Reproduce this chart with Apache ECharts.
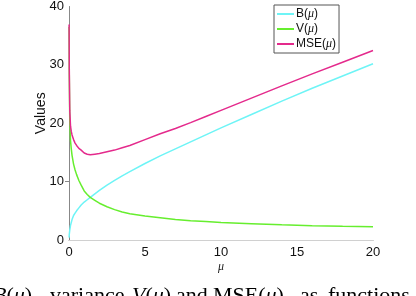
<!DOCTYPE html>
<html>
<head>
<meta charset="utf-8">
<script src="https://cdn.jsdelivr.net/npm/echarts@6/dist/echarts.min.js"></script>
<style>html,body{margin:0;padding:0;background:#fff}#c{width:416px;height:296px}</style>
</head>
<body>
<div id="c"></div>
<script>
const mu       = [0.005,0.02,0.05,0.1,0.15,0.2,0.3,0.4,0.5,0.65,0.8,1,1.2,1.4,1.7,2,2.5,3,3.5,4,5,6,7,8,9,10,12,14,16,18,20];
const bias     = [0.4,1.0,1.7,2.5,3.0,3.5,4.2,4.6,5.0,5.5,6.0,6.5,6.9,7.3,7.9,8.5,9.4,10.2,11.0,11.7,13.1,14.4,15.6,16.8,18.0,19.2,21.5,23.8,26.0,28.1,30.2];
const variance = [36.5,28.0,20.5,17.0,15.6,14.5,13.0,12.0,11.2,10.2,9.4,8.4,7.8,7.3,6.8,6.3,5.7,5.2,4.8,4.5,4.1,3.8,3.5,3.3,3.15,3.0,2.8,2.6,2.45,2.35,2.27];
const mse      = [36.9,29.0,22.2,19.5,18.6,18.0,17.2,16.6,16.2,15.7,15.4,14.9,14.7,14.6,14.7,14.8,15.1,15.4,15.8,16.2,17.2,18.2,19.1,20.1,21.15,22.2,24.3,26.4,28.45,30.45,32.47];
const seriesNames = ['B(μ)','V(μ)','MSE(μ)'];
const seriesColors = ['#6ef4f6','#66ee2e','#e42a8c'];
const xTitle = 'μ';
const yTitle = 'Values';

const pairs = arr => mu.map((m,i)=>[m,arr[i]]);
const sans = 'Liberation Sans';
const serif = 'Liberation Serif';
const rich = {
  n:{fontFamily:sans,fontSize:12,color:'#111'},
  i:{fontFamily:serif,fontStyle:'italic',fontSize:12,color:'#111'}
};
const capRich = {
  n:{fontFamily:serif,fontSize:22,color:'#111'},
  i:{fontFamily:serif,fontStyle:'italic',fontSize:22,color:'#111'}
};
function capText(x, txt){
  return {type:'text', left:x, top:285, style:{text:txt, rich:capRich, font:'22px "Liberation Serif"'}};
}

const chart = echarts.init(document.getElementById('c'), null, {renderer:'canvas'});
chart.setOption({
  animation:false,
  backgroundColor:'#fff',
  grid:{left:69,right:43,top:5,bottom:56},
  legend:{
    orient:'vertical', left:274, top:5,
    padding:[3,3,3,2], itemGap:3, itemWidth:17, itemHeight:10,
    backgroundColor:'#fff', borderColor:'#555', borderWidth:1, borderRadius:0,
    data:seriesNames,
    itemStyle:{opacity:0},
    formatter: n => '{n|' + n.replace('μ','}{i|μ}{n|') + '}',
    textStyle:{rich:rich, padding:[0,0,0,-3]}
  },
  xAxis:[{
    type:'value', min:0, max:20, interval:5, position:'bottom',
    name:xTitle, nameLocation:'middle', nameGap:21, nameMoveOverlap:false,
    nameTextStyle:{fontFamily:serif,fontStyle:'italic',fontSize:12,color:'#222'},
    axisLine:{show:true,lineStyle:{color:'#999',width:1}},
    axisTick:{show:false},
    axisLabel:{fontFamily:sans,fontSize:13,color:'#111',margin:6},
    splitLine:{show:false}
  },{
    type:'value', min:0, max:20, interval:5, position:'top',
    axisLine:{show:true,lineStyle:{color:'#d0d0d0',width:1}},
    axisTick:{show:false}, axisLabel:{show:false}, splitLine:{show:false}
  }],
  yAxis:[{
    type:'value', min:0, max:40, interval:10, position:'left',
    name:yTitle, nameLocation:'middle', nameGap:21, nameRotate:90, nameMoveOverlap:false,
    nameTextStyle:{fontFamily:sans,fontSize:14,color:'#111',padding:[0,0,0,20]},
    axisLine:{show:false},
    axisTick:{show:true,length:3,customValues:[10],lineStyle:{color:'#aaa'}},
    axisLabel:{fontFamily:sans,fontSize:13,color:'#111',margin:5},
    splitLine:{show:false}
  },{
    type:'value', min:0, max:40, interval:10, position:'right',
    axisLine:{show:true,lineStyle:{color:'#888',width:1}},
    axisTick:{show:true,inside:true,length:4,customValues:[10],lineStyle:{color:'#888'}},
    axisLabel:{show:false}, splitLine:{show:false}
  }],
  series:[
    {name:seriesNames[0],type:'line',data:pairs(bias),symbol:'none',smooth:false,
     lineStyle:{color:seriesColors[0],width:1.5},itemStyle:{color:seriesColors[0]}},
    {name:seriesNames[1],type:'line',data:pairs(variance),symbol:'none',smooth:false,
     lineStyle:{color:seriesColors[1],width:1.5},itemStyle:{color:seriesColors[1]}},
    {name:seriesNames[2],type:'line',data:pairs(mse),symbol:'none',smooth:false,
     lineStyle:{color:seriesColors[2],width:1.5},itemStyle:{color:seriesColors[2]}}
  ],
  graphic:[
    capText(-7,'{i|B}{n|(}{i|μ}{n|),}'),
    capText(50,'{n|variance}'),
    capText(132,'{i|V}{n|(}{i|μ}{n|),}'),
    capText(176,'{n|and}'),
    capText(213,'{n|MSE(}{i|μ}{n|)}'),
    capText(300,'{n|as}'),
    capText(328,'{n|functions}')
  ]
});
</script>
</body>
</html>
